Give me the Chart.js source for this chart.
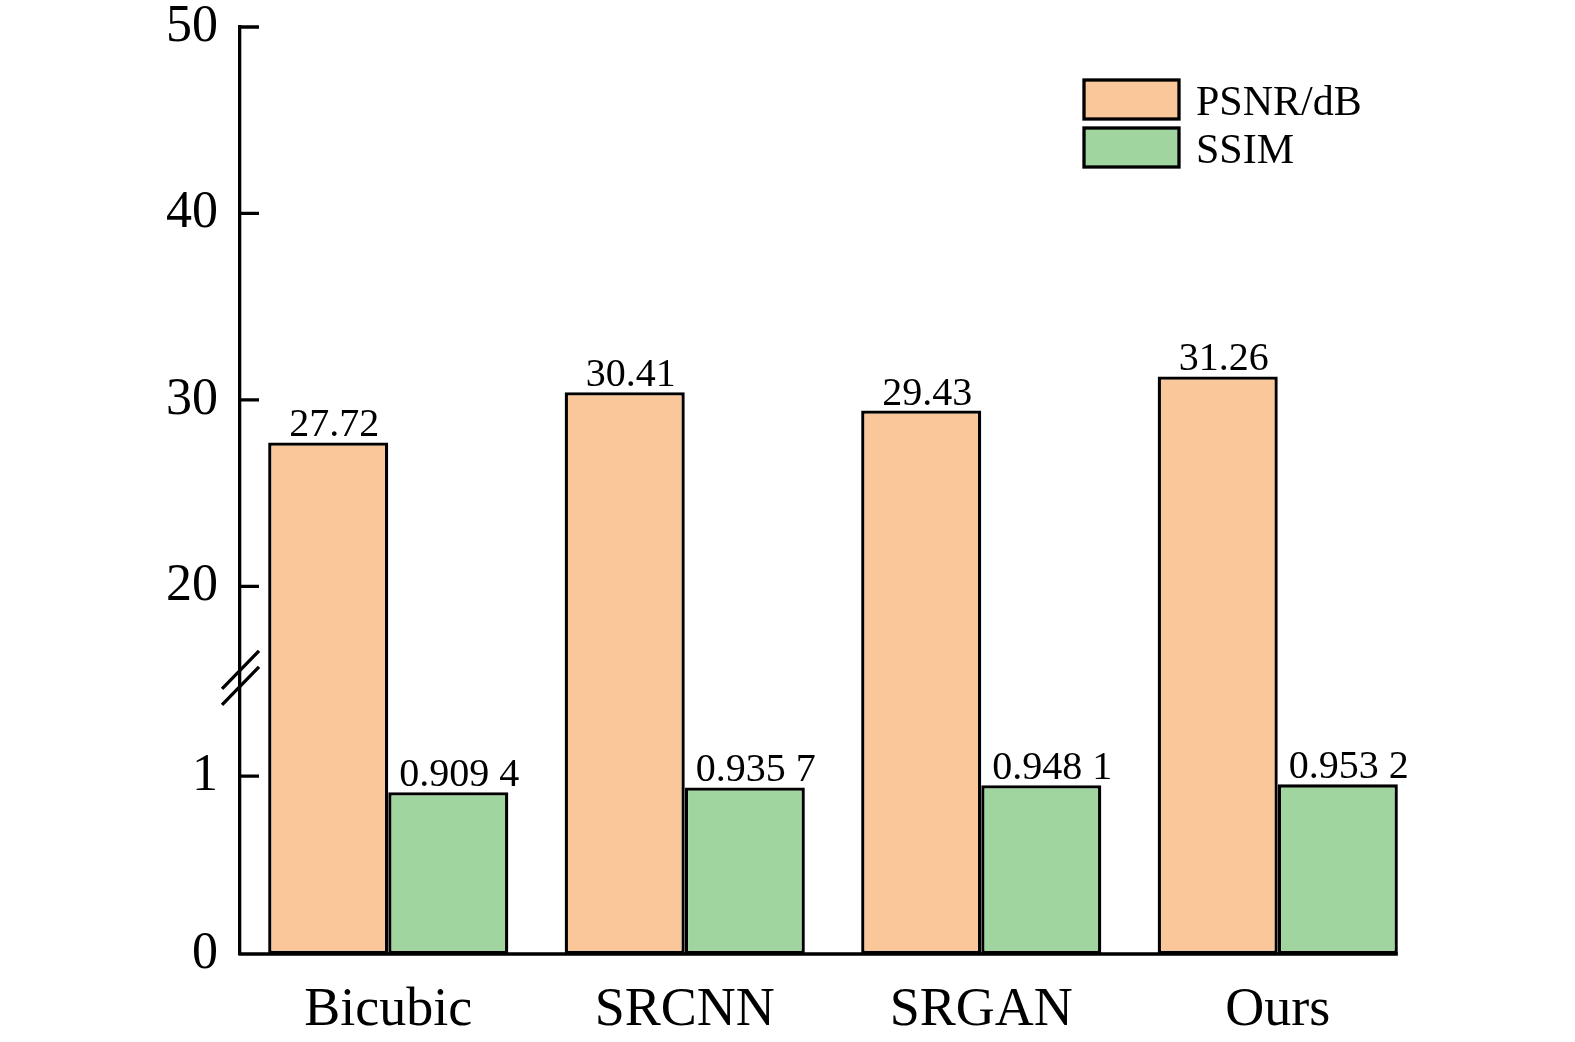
<!DOCTYPE html>
<html>
<head>
<meta charset="utf-8">
<script src="https://cdn.jsdelivr.net/npm/chart.js@4.4.1/dist/chart.umd.min.js"></script>
<style>
html,body{margin:0;padding:0;background:#fff;overflow:hidden;}
#wrap{width:1575px;height:1042px;}
canvas{display:block;}
</style>
</head>
<body>
<div id="wrap"><canvas id="myChart" width="1575" height="1042"></canvas></div>
<script>
var methods = ['Bicubic', 'SRCNN', 'SRGAN', 'Ours'];
var psnr = [27.72, 30.41, 29.43, 31.26];
var ssim = [0.9094, 0.9357, 0.9481, 0.9532];
var yTicks = [0, 1, 20, 30, 40, 50];

// y axis is cut between breakLow and breakHigh
var breakLow = 1.551;
var breakHigh = 15.09;
var upperRatio = 18.65 / 178; // 20..50 part is squeezed compared to the 0..1 part

function squash(v){
    if(v <= breakLow) return v;
    return breakLow + (v - breakHigh) * upperRatio;
}
function unsquash(t){
    if(t <= breakLow) return t;
    return breakHigh + (t - breakLow) / upperRatio;
}

class BrokenScale extends Chart.LinearScale {
    getPixelForValue(v){ return super.getPixelForValue(squash(v)); }
    getValueForPixel(p){ return unsquash(super.getValueForPixel(p)); }
}
BrokenScale.id = 'broken';
BrokenScale.defaults = {};
Chart.register(BrokenScale);

var serif = 'Liberation Serif';
var lw = 3.3;

function noPadding(s){
    s.paddingTop = 0; s.paddingBottom = 0;
    s.paddingLeft = 0; s.paddingRight = 0;
}

// inward ticks, bottom axis line and the break marks
var axisDecor = {
    id: 'axisDecor',
    afterDraw: function(chart){
        var c = chart.ctx;
        var area = chart.chartArea;
        var y = chart.scales.y;
        var last = chart.getDatasetMeta(1).data[methods.length - 1];
        c.save();
        c.strokeStyle = '#000';
        c.lineWidth = lw;
        c.beginPath();
        c.moveTo(area.left - lw / 2, area.bottom);
        c.lineTo(last.x + last.width / 2, area.bottom);
        yTicks.forEach(function(v){
            var py = y.getPixelForValue(v);
            c.moveTo(area.left, py);
            c.lineTo(area.left + 19, py);
        });
        var by = y.getPixelForValue(breakLow);
        [-8, 8].forEach(function(off){
            c.moveTo(area.left - 18, by + off + 19);
            c.lineTo(area.left + 19, by + off - 19);
        });
        c.stroke();
        c.restore();
    }
};

var valueLabels = {
    id: 'valueLabels',
    afterDatasetsDraw: function(chart){
        var c = chart.ctx;
        c.save();
        c.font = '40px "' + serif + '"';
        c.fillStyle = '#000';
        c.textAlign = 'center';
        c.textBaseline = 'alphabetic';
        chart.getDatasetMeta(0).data.forEach(function(el, i){
            c.fillText(psnr[i].toFixed(2), el.x + 6, el.y - 6);
        });
        chart.getDatasetMeta(1).data.forEach(function(el, i){
            var s = ssim[i].toFixed(4);
            c.fillText(s.slice(0, 5) + ' ' + s.slice(5), el.x + 11, el.y - 6);
        });
        c.restore();
    }
};

var boxLegend = {
    id: 'boxLegend',
    afterDraw: function(chart){
        var c = chart.ctx;
        c.save();
        c.font = '42px "' + serif + '"';
        c.textBaseline = 'alphabetic';
        c.textAlign = 'left';
        chart.data.datasets.forEach(function(ds, i){
            var top = 80 + i * 48;
            c.fillStyle = ds.backgroundColor;
            c.fillRect(1084, top, 95, 39);
            c.strokeStyle = '#000';
            c.lineWidth = lw;
            c.strokeRect(1084, top, 95, 39);
            c.fillStyle = '#000';
            c.fillText(ds.label, 1196, top + 35);
        });
        c.restore();
    }
};

var ctx = document.getElementById('myChart').getContext('2d');
var chart = new Chart(ctx, {
    type: 'bar',
    data: {
        labels: methods,
        datasets: [{
            label: 'PSNR/dB',
            data: psnr,
            backgroundColor: '#F9C799',
            borderColor: '#000',
            borderWidth: lw,
            borderSkipped: false,
            categoryPercentage: 0.81,
            barPercentage: 1.0
        }, {
            label: 'SSIM',
            data: ssim,
            backgroundColor: '#A1D59F',
            borderColor: '#000',
            borderWidth: lw,
            borderSkipped: false,
            categoryPercentage: 0.81,
            barPercentage: 1.0
        }]
    },
    options: {
        responsive: false,
        animation: false,
        layout: { padding: { top: 27, right: 149, bottom: 0, left: 0 } },
        plugins: { legend: { display: false }, tooltip: { enabled: false } },
        scales: {
            x: {
                grid: { display: false, drawTicks: false },
                border: { display: false },
                ticks: { color: '#000', font: { family: serif, size: 54 }, padding: 24 },
                afterFit: function(s){ s.height = 88; noPadding(s); }
            },
            y: {
                type: 'broken',
                min: 0,
                max: squash(50),
                grid: { display: false, drawTicks: false },
                border: { display: true, color: '#000', width: lw },
                afterBuildTicks: function(s){
                    s.ticks = yTicks.map(function(v){ return { value: v }; });
                },
                ticks: {
                    color: '#000',
                    font: { family: serif, size: 52 },
                    padding: 22,
                    callback: function(v){ return String(v); }
                },
                afterFit: function(s){ s.width = 240; noPadding(s); }
            }
        }
    },
    plugins: [axisDecor, valueLabels, boxLegend]
});
</script>
</body>
</html>
